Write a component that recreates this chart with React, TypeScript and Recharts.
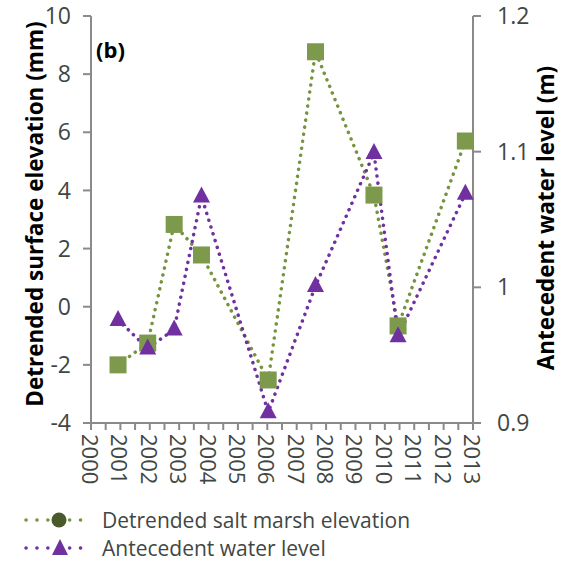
import React from 'react';
import { ComposedChart, Line, XAxis, YAxis, Legend, Label } from 'recharts';

const years = [2000.92, 2001.93, 2002.83, 2003.76, 2006.03, 2007.64, 2009.63, 2010.45, 2012.74];
const elevation = [-2.0, -1.25, 2.83, 1.78, -2.52, 8.77, 3.84, -0.66, 5.7];
const waterLevel = [0.976, 0.955, 0.969, 1.067, 0.908, 1.001, 1.099, 0.964, 1.069];

const xTicks = Array.from({ length: 27 }, (_, i) => 2000 + i * 0.5);
const leftTicks = [-4, -2, 0, 2, 4, 6, 8, 10];
const rightTicks = [0.9, 1, 1.1, 1.2];

const data = years.map((y, i) => ({ year: y, elev: elevation[i], water: waterLevel[i] }));

const GREEN = '#77933C';
const PURPLE = '#7030A0';
const TEXT = '#3f4744';
const AXIS = '#8a8a8a';
const FONT = '"Open Sans", sans-serif';

const Square = (p: any) => (
  <rect x={p.cx - 8.5} y={p.cy - 8.5} width={17} height={17} fill="#7D9A4C" />
);
const Triangle = (p: any) => (
  <polygon points={`${p.cx},${p.cy - 10} ${p.cx + 8.5},${p.cy + 6} ${p.cx - 8.5},${p.cy + 6}`} fill={PURPLE} />
);

const YearTick = (p: any) => {
  const v = p.payload.value;
  if (Math.abs(v - Math.round(v)) > 0.01) return null;
  return (
    <text x={p.x} y={p.y + 2} transform={`rotate(90 ${p.x} ${p.y + 2})`} textAnchor="start"
      dominantBaseline="central" fill={TEXT} fontSize={22} fontFamily={FONT}>{Math.round(v)}</text>
  );
};

const LegendBox = () => (
  <svg width={568} height={61} style={{ display: 'block' }}>
    <line x1={26} y1={20} x2={91} y2={20} stroke={GREEN} strokeWidth={3.5} strokeDasharray="0.1 10.8" strokeLinecap="round" />
    <circle cx={59} cy={20} r={7.5} fill="#4A5A2A" />
    <text x={102} y={27.5} fontSize={21} fontFamily={FONT} fill={TEXT}>Detrended salt marsh elevation</text>
    <line x1={26} y1={48} x2={91} y2={48} stroke={PURPLE} strokeWidth={3.5} strokeDasharray="0.1 10.8" strokeLinecap="round" />
    <polygon points="60,39 68,55 52,55" fill={PURPLE} />
    <text x={102} y={55.5} fontSize={21} fontFamily={FONT} fill={TEXT}>Antecedent water level</text>
  </svg>
);

export default function App() {
  return (
    <div style={{ position: 'absolute', left: 0, top: 0 }}>
      <ComposedChart width={568} height={561} data={data} margin={{ top: 16, right: 0, left: 0, bottom: 68 }}>
        <XAxis dataKey="year" type="number" domain={[2000, 2013]} ticks={xTicks} interval={0}
          tick={<YearTick />} tickSize={7} height={70} stroke={AXIS} strokeWidth={2} />
        <YAxis yAxisId="left" domain={[-4, 10]} ticks={leftTicks} width={91} tickSize={8} tickMargin={12}
          stroke={AXIS} strokeWidth={2}
          tick={{ fill: TEXT, fontSize: 23, fontFamily: FONT }}>
          <Label content={() => (
            <g>
              <text x={34} y={214} transform="rotate(-90 34 214)" textAnchor="middle" dominantBaseline="central"
                fontSize={22.5} fontWeight="bold" fontFamily={FONT} fill="#000">Detrended surface elevation (mm)</text>
              <text x={96} y={58} fontSize={22} fontWeight="bold" fontFamily={FONT} fill="#000">(b)</text>
            </g>
          )} />
        </YAxis>
        <YAxis yAxisId="right" orientation="right" domain={[0.9, 1.2]} ticks={rightTicks} width={95}
          tickSize={8} tickMargin={16} stroke={AXIS} strokeWidth={2}
          tick={{ fill: TEXT, fontSize: 23, fontFamily: FONT, textAnchor: 'start' }}>
          <Label content={() => (
            <text x={545} y={218} transform="rotate(-90 545 218)" textAnchor="middle" dominantBaseline="central"
              fontSize={22.5} fontWeight="bold" fontFamily={FONT} fill="#000">Antecedent water level (m)</text>
          )} />
        </YAxis>
        <Line yAxisId="left" dataKey="elev" stroke={GREEN} strokeWidth={3.5} strokeDasharray="0.1 7"
          strokeLinecap="round" dot={<Square />} activeDot={false} isAnimationActive={false} />
        <Line yAxisId="right" dataKey="water" stroke={PURPLE} strokeWidth={3.5} strokeDasharray="0.1 7"
          strokeLinecap="round" dot={<Triangle />} activeDot={false} isAnimationActive={false} />
        <Legend layout="horizontal" verticalAlign="middle" align="center" content={<LegendBox />}
          wrapperStyle={{ top: 500, left: 0, width: 568, height: 61 }} />
      </ComposedChart>
    </div>
  );
}
